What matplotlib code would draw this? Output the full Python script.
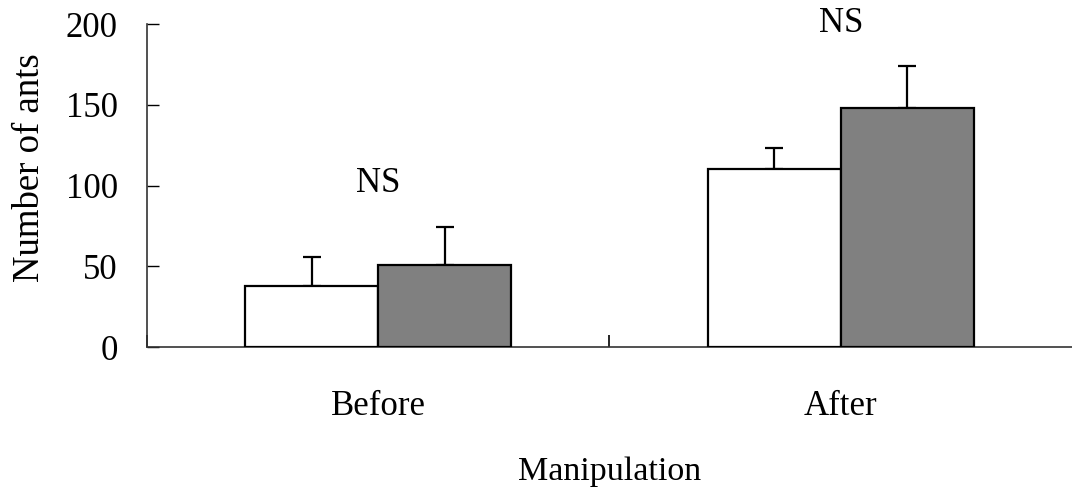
import numpy as np
import matplotlib
matplotlib.use('Agg')
import matplotlib.pyplot as plt

plt.rcParams['font.family'] = ['Liberation Serif', 'DejaVu Serif']

groups = ['Before', 'After']
control = [38, 110]
control_se = [18, 13]
treated = [51, 148]
treated_se = [23, 26]
sig_labels = ['NS', 'NS']
sig_heights = [96, 195]

fig = plt.figure(figsize=(10.72, 4.96), dpi=100)
ax = fig.add_axes([0.1371, 0.3004, 0.8629, 0.6512])

x = np.arange(len(groups))
w = 0.288

ax.bar(x - w / 2, control, w, color='white', edgecolor='black', linewidth=1.6, zorder=3)
ax.bar(x + w / 2, treated, w, color='#808080', edgecolor='black', linewidth=1.6, zorder=3)

# upper error bars only
ax.errorbar(x - w / 2, control, yerr=[np.zeros(2), control_se], fmt='none',
            ecolor='black', elinewidth=1.6, capsize=6.5, capthick=1.6, zorder=2)
ax.errorbar(x + w / 2, treated, yerr=[np.zeros(2), treated_se], fmt='none',
            ecolor='black', elinewidth=1.6, capsize=6.5, capthick=1.6, zorder=2)

for xi, lab, h in zip(x, sig_labels, sig_heights):
    ax.text(xi, h, lab, ha='center', va='baseline', fontsize=25)

ax.set_xlim(-0.5, 1.5)
ax.set_ylim(0, 200)
ax.set_yticks([0, 50, 100, 150, 200])
ax.set_xticks(x)
ax.set_xticklabels(groups)
ax.set_xticks([-0.5, 0.5], minor=True)

ax.tick_params(axis='y', direction='in', length=8.5, width=1, labelsize=25, pad=21)
ax.tick_params(axis='x', which='major', length=0, labelsize=25, pad=31)
ax.tick_params(axis='x', which='minor', direction='in', length=8.5, width=1.2)

for s in ['top', 'right']:
    ax.spines[s].set_visible(False)
for s in ['left', 'bottom']:
    ax.spines[s].set_linewidth(1.2)
    ax.spines[s].set_color('#333333')

ax.set_ylabel('Number of ants', fontsize=26.5)
ax.yaxis.set_label_coords(-0.108, 0.554)
ax.set_xlabel('Manipulation', fontsize=24.5, labelpad=24)

fig.savefig('out.png', dpi=100)
